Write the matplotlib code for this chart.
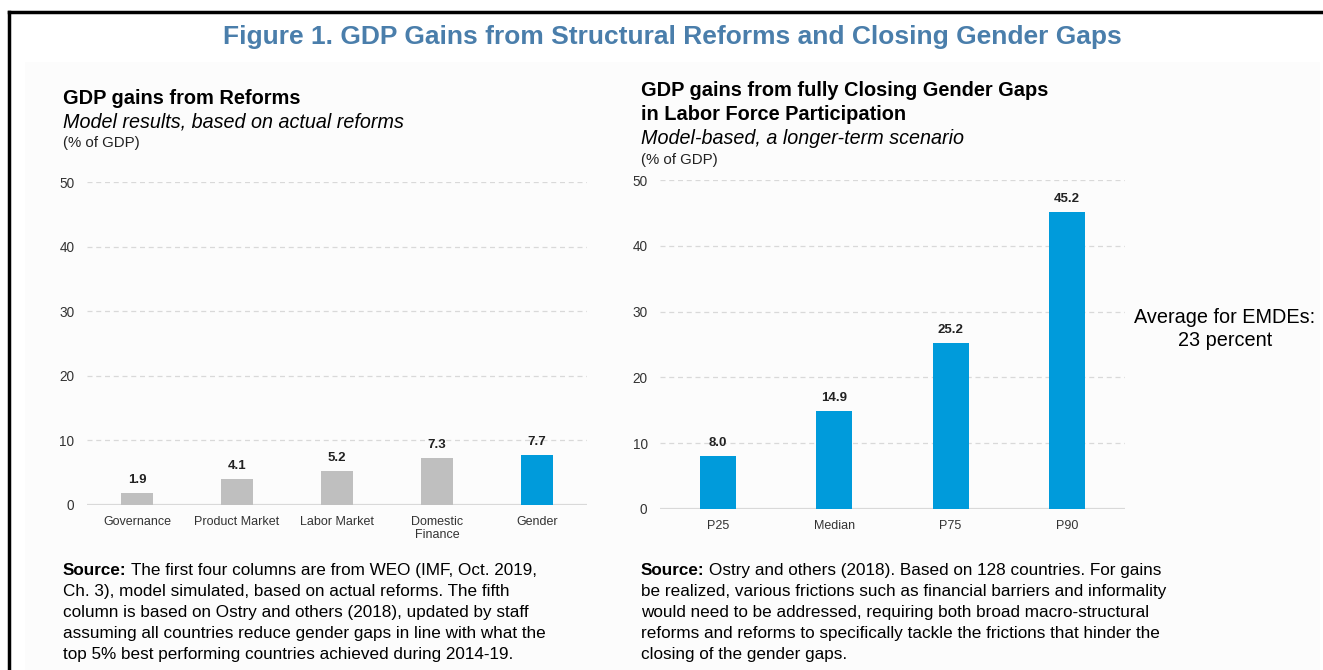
import matplotlib.pyplot as plt
from matplotlib.patches import Rectangle
from matplotlib.lines import Line2D

plt.rcParams['font.family'] = ['Liberation Sans', 'DejaVu Sans']

# Datos de ambos paneles
reform_labels = ['Governance', 'Product Market', 'Labor Market', 'Domestic\nFinance', 'Gender']
reform_gains = [1.9, 4.1, 5.2, 7.3, 7.7]
reform_colors = ['#bfbfbf', '#bfbfbf', '#bfbfbf', '#bfbfbf', '#009bdb']

gap_labels = ['P25', 'Median', 'P75', 'P90']
gap_gains = [8.0, 14.9, 25.2, 45.2]

y_ticks = [0, 10, 20, 30, 40, 50]

BLUE = '#009bdb'
GRID = '#d9d9d9'
TICK = '#333333'

W, H = 1323, 670
fig = plt.figure(figsize=(W / 100, H / 100), dpi=100)


def px(x, y):
    # convierte pixeles (desde arriba a la izquierda) a fraccion de figura
    return x / W, 1 - y / H


# fondo gris muy claro y marco negro
fig.patches.append(Rectangle(px(25, H), (1320 - 25) / W, (H - 62) / H,
                             transform=fig.transFigure, facecolor='#fcfcfc',
                             edgecolor='none', zorder=-5))
fig.add_artist(Line2D([9 / W, 9 / W], [1 - 12 / H, 0], transform=fig.transFigure,
                      color='black', lw=2.5))
fig.add_artist(Line2D([9 / W, 1], [1 - 12 / H, 1 - 12 / H], transform=fig.transFigure,
                      color='black', lw=2.5))

fig.text(*px(672, 37), 'Figure 1. GDP Gains from Structural Reforms and Closing Gender Gaps',
         ha='center', va='center', fontsize=19, fontweight='bold', color='#4a7eab')


def panel(rect, labels, values, colors, width, xlim):
    ax = fig.add_axes(rect)
    ax.set_facecolor('none')
    xs = range(len(values))
    bars = ax.bar(xs, values, width=width, color=colors, zorder=3)
    for b, v in zip(bars, values):
        ax.annotate(f'{v:.1f}', (b.get_x() + b.get_width() / 2, v),
                    xytext=(0, 5), textcoords='offset points',
                    ha='center', va='bottom', fontsize=9.5, fontweight='bold',
                    color='#222222')
    ax.set_ylim(0, 50)
    ax.set_xlim(*xlim)
    ax.set_yticks(y_ticks)
    ax.set_xticks(list(xs))
    ax.set_xticklabels(labels, fontsize=9, color=TICK, linespacing=1.15)
    ax.tick_params(axis='y', length=0, pad=9, labelsize=9.8, labelcolor=TICK)
    ax.tick_params(axis='x', length=0, pad=8)
    for s in ax.spines.values():
        s.set_visible(False)
    for t in y_ticks[1:]:
        ax.axhline(t, color=GRID, lw=0.9, dashes=(4, 3), zorder=1)
    ax.axhline(0, color=GRID, lw=1.6, zorder=2)
    return ax


# panel izquierdo: reformas
l0, b0 = px(87, 505)
l1, b1 = px(587, 182)
panel([l0, b0, l1 - l0, b1 - b0], reform_labels, reform_gains, reform_colors,
      0.32, (-0.5, 4.5))

# panel derecho: brechas de genero
r0, c0 = px(660, 509)
r1, c1 = px(1125, 180)
panel([r0, c0, r1 - r0, c1 - c0], gap_labels, gap_gains, BLUE, 0.31, (-0.5, 3.5))

# titulos de los paneles
fig.text(*px(63, 98), 'GDP gains from Reforms', fontsize=14.4, fontweight='bold', va='center')
fig.text(*px(63, 122), 'Model results, based on actual reforms', fontsize=14.2,
         style='italic', va='center')
fig.text(*px(63, 143), '(% of GDP)', fontsize=10.8, va='center', color='#222222')

fig.text(*px(641, 90), 'GDP gains from fully Closing Gender Gaps', fontsize=14.4,
         fontweight='bold', va='center')
fig.text(*px(641, 115), 'in Labor Force Participation', fontsize=14.4,
         fontweight='bold', va='center')
fig.text(*px(641, 139), 'Model-based, a longer-term scenario', fontsize=14.2,
         style='italic', va='center')
fig.text(*px(641, 160), '(% of GDP)', fontsize=10.8, va='center', color='#222222')

fig.text(*px(1225, 317), 'Average for EMDEs:', fontsize=14.3, ha='center', va='center')
fig.text(*px(1225, 341), '23 percent', fontsize=14.3, ha='center', va='center')

# notas de fuente
renderer = fig.canvas.get_renderer()
FS = 12.3


def source_note(x, y, lines, step=21):
    # y es la linea base de la primera linea
    head = fig.text(*px(x, y), 'Source:', fontsize=FS, fontweight='bold', va='baseline')
    w = head.get_window_extent(renderer).width
    fig.text(*px(x + w + 4, y), lines[0], fontsize=FS, va='baseline')
    for i, ln in enumerate(lines[1:], start=1):
        fig.text(*px(x, y + i * step), ln, fontsize=FS, va='baseline')


source_note(63, 575, [
    'The first four columns are from WEO (IMF, Oct. 2019,',
    'Ch. 3), model simulated, based on actual reforms. The fifth',
    'column is based on Ostry and others (2018), updated by staff',
    'assuming all countries reduce gender gaps in line with what the',
    'top 5% best performing countries achieved during 2014-19.',
])
source_note(641, 575, [
    'Ostry and others (2018). Based on 128 countries. For gains',
    'be realized, various frictions such as financial barriers and informality',
    'would need to be addressed, requiring both broad macro-structural',
    'reforms and reforms to specifically tackle the frictions that hinder the',
    'closing of the gender gaps.',
])

fig.savefig('out.png', dpi=100)
